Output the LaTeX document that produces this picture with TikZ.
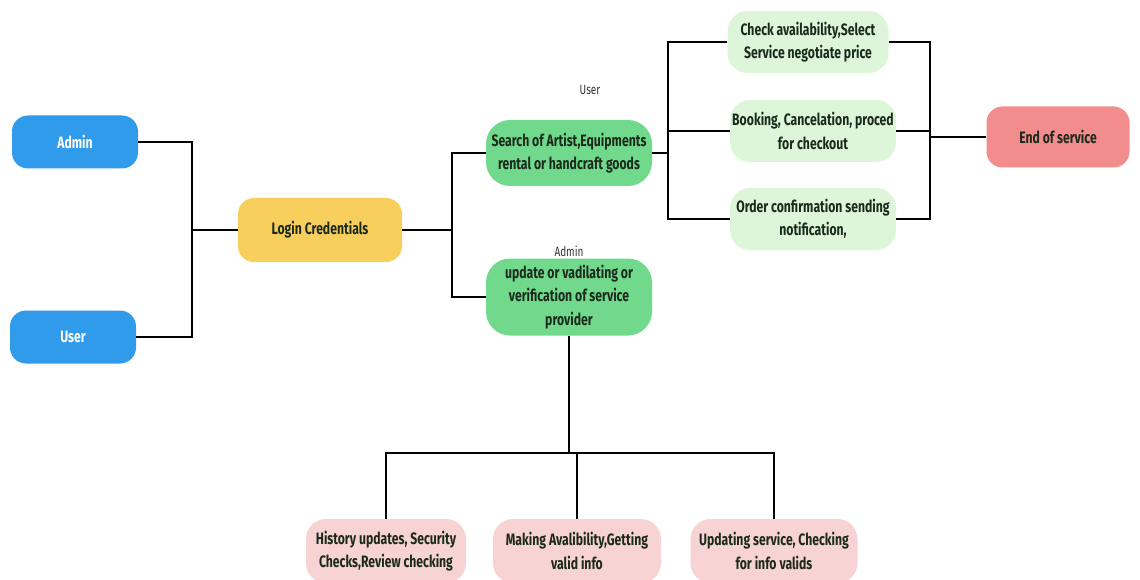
\documentclass[tikz,border=0pt]{standalone}
\usepackage{fontspec}
\setmainfont{Fira Sans}[FakeStretch=0.74]
\usepackage{tikz}
\usetikzlibrary{positioning}
\definecolor{roleblue}{HTML}{2F9BEA}
\definecolor{loginyellow}{HTML}{F8CF5C}
\definecolor{taskgreen}{HTML}{71D98B}
\definecolor{stepgreen}{HTML}{DDF6D9}
\definecolor{endred}{HTML}{F38C8C}
\definecolor{checkpink}{HTML}{F7D3D3}
\definecolor{inktext}{HTML}{1C2A1E}
\tikzset{
    box/.style={rectangle, rounded corners=16pt, text centered, align=center, font=\fontsize{16.5}{23.5}\selectfont\bfseries, text=inktext, inner sep=1pt},
    role/.style={box, fill=roleblue, text=white, minimum width=126pt, minimum height=53pt},
    login/.style={box, fill=loginyellow, minimum width=164pt, minimum height=64pt},
    task/.style={box, fill=taskgreen, rounded corners=24pt, minimum width=166pt},
    stepbox/.style={box, fill=stepgreen, rounded corners=20pt, minimum width=166pt, minimum height=62pt},
    finish/.style={box, fill=endred, minimum width=143pt, minimum height=61pt},
    checkbox/.style={box, fill=checkpink, rounded corners=20pt, minimum width=166pt, minimum height=64pt},
    tag/.style={font=\fontsize{13.5}{16}\selectfont, text=black!80},
    link/.style={line width=2.6pt, black},
}
\begin{document}
\begin{tikzpicture}[x=1pt, y=-1pt]
        \useasboundingbox (0,0) rectangle (1140,580);

        % Roles
        \node[role] (admin) at (75,142) {Admin};
        \node[role] (user) at (73,337) {User};

        % Login
        \node[login] (login) at (320,230) {Login Credentials};

        % User and admin tasks
        \node[task, minimum height=66pt] (search) at (569,153) {Search of Artist,Equipments\\rental or handcraft goods};
        \node[task, minimum height=77pt] (verify) at (569,297) {update or vadilating or\\verification of service\\provider};
        \node[tag, above=22pt of search, xshift=21pt] (usertag) {User};
        \node[tag, above=-2pt of verify] (admintag) {Admin};

        % User steps
        \node[stepbox, minimum width=161pt] (check) at (808,42) {Check availability,Select\\Service negotiate price};
        \node[stepbox] (booking) at (813,131) {Booking, Cancelation, proced\\for checkout};
        \node[stepbox] (order) at (813,219) {Order confirmation sending\\notification,};
        \node[finish] (end) at (1058,137) {End of service};

        % Admin checks
        \node[checkbox, minimum width=160pt] (history) at (386,551) {History updates, Security\\Checks,Review checking};
        \node[checkbox, minimum width=168pt] (making) at (577,551) {Making Avalibility,Getting\\valid info};
        \node[checkbox, minimum width=167pt] (updating) at (774,551) {Updating service, Checking\\for info valids};

        % Junctions
        \coordinate (jrole) at (192,230);
        \coordinate (jlogin) at (452,230);
        \coordinate (jsearch) at (668,153);
        \coordinate (jend) at (930,137);
        \coordinate (jverify) at (569,453);

        % Connectors
        \draw[link] (admin.east) -| (jrole) |- (user.east);
        \draw[link] (jrole) -- (login.west);
        \draw[link] (login.east) -- (jlogin);
        \draw[link] (search.west) -| (jlogin) |- (verify.west);
        \draw[link] (search.east) -- (jsearch);
        \draw[link] (check.west) -| (jsearch) |- (order.west);
        \draw[link] (jsearch |- booking.west) -- (booking.west);
        \draw[link] (check.east) -| (jend) |- (order.east);
        \draw[link] (booking.east) -- (jend |- booking.east);
        \draw[link] (jend) -- (end.west);
        \draw[link] (verify.south) -- (jverify);
        \draw[link] (history.north) |- (jverify) -| (updating.north);
        \draw[link] (making.north) -- (making.north |- jverify);
    \end{tikzpicture}
\end{document}
